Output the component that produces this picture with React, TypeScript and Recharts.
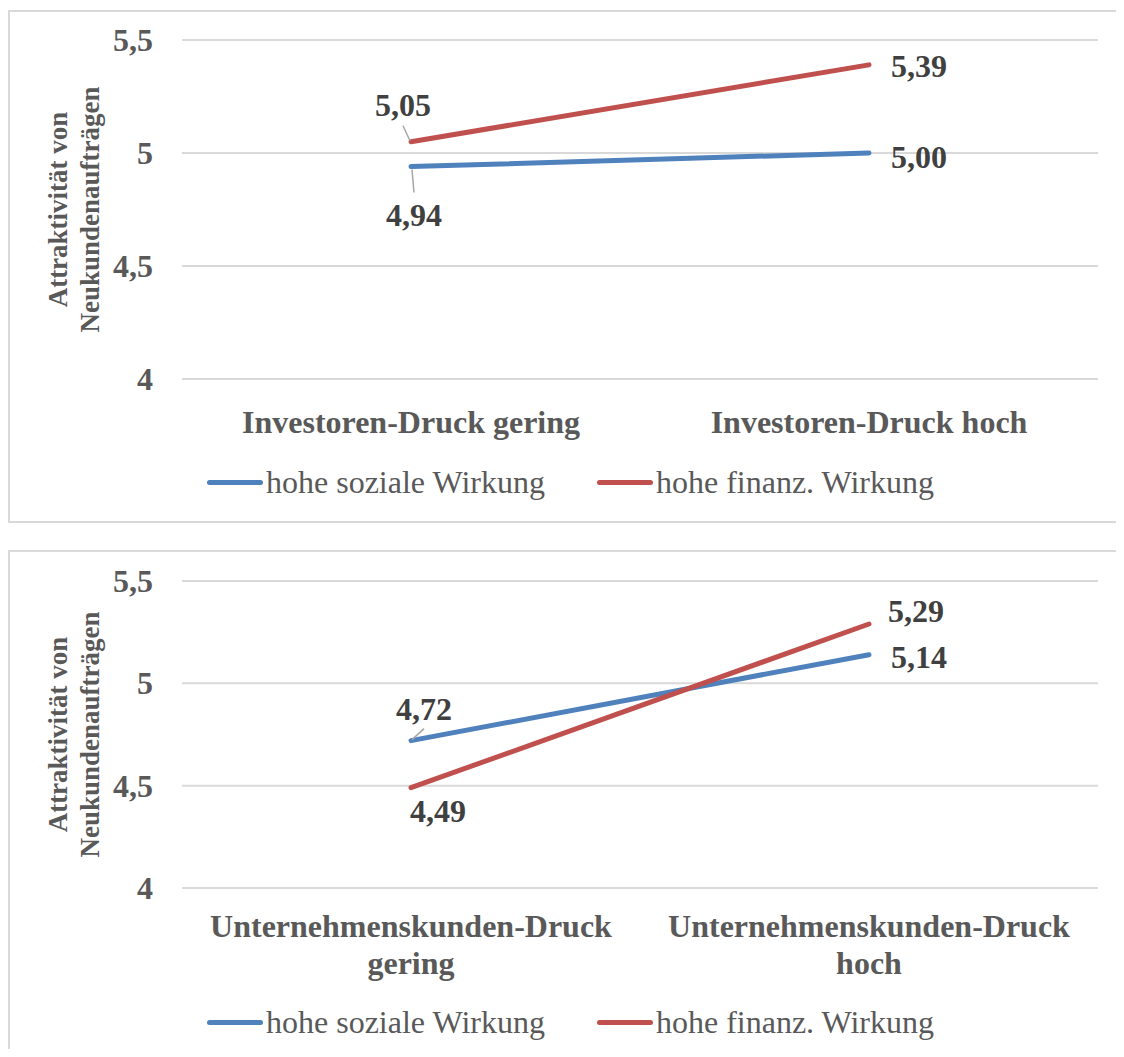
import React from 'react';
import { LineChart, Line, XAxis, YAxis, CartesianGrid, Legend, LabelList } from 'recharts';

// Panel A: Investoren-Druck
const investorCategories = ['Investoren-Druck gering', 'Investoren-Druck hoch'];
const investorSocial = [4.94, 5.0];
const investorFinancial = [5.05, 5.39];

// Panel B: Unternehmenskunden-Druck
const clientCategories = ['Unternehmenskunden-Druck gering', 'Unternehmenskunden-Druck hoch'];
const clientSocial = [4.72, 5.14];
const clientFinancial = [4.49, 5.29];

const yTicks = [4, 4.5, 5, 5.5];
const seriesNames = ['hohe soziale Wirkung', 'hohe finanz. Wirkung'];
const axisTitle = ['Attraktivität von', 'Neukundenaufträgen'];

const FONT = '"Liberation Serif", "Times New Roman", serif';
const BLUE = '#4F81BD';
const RED = '#C0504D';
const GREY_TEXT = '#595959';
const LABEL_TEXT = '#404040';
const GRID = '#d9d9d9';

type Placement = {
  dx: number;
  dy: number;
  anchor: 'start' | 'middle' | 'end';
  leader?: [number, number, number, number];
};

interface PanelProps {
  categories: string[];
  social: number[];
  financial: number[];
  socialLabels: Placement[];
  financialLabels: Placement[];
  plotTop: number;
  xAxisHeight: number;
  tickDy: number;
  wrapTicks?: boolean;
}

const CHART_W = 1114;
const CHART_H = 509;
const PLOT_LEFT = 172;
const PLOT_RIGHT_MARGIN = 26;
// half a category band on each side, so points sit in the middle of their band
const BAND_PAD = (CHART_W - PLOT_LEFT - PLOT_RIGHT_MARGIN) / 4;

function fmt(v: number, digits: number) {
  return v.toFixed(digits).replace('.', ',');
}

function fmtTick(v: number) {
  return Number.isInteger(v) ? String(v) : fmt(v, 1);
}

function makeLabel(placements: Placement[]) {
  // eslint-disable-next-line @typescript-eslint/no-explicit-any
  return function DataLabel(props: any) {
    const { x, y, value, index } = props;
    const p = placements[index];
    if (!p || x == null || y == null) return null;
    return (
      <g>
        {p.leader && (
          <line
            x1={x + p.leader[0]}
            y1={y + p.leader[1]}
            x2={x + p.leader[2]}
            y2={y + p.leader[3]}
            stroke="#a6a6a6"
            strokeWidth={1.5}
          />
        )}
        <text
          x={x + p.dx}
          y={y + p.dy}
          textAnchor={p.anchor}
          dominantBaseline="central"
          fontFamily={FONT}
          fontWeight="bold"
          fontSize={32}
          fill={LABEL_TEXT}
        >
          {fmt(Number(value), 2)}
        </text>
      </g>
    );
  };
}

// eslint-disable-next-line @typescript-eslint/no-explicit-any
function YTick({ x, y, payload }: any) {
  return (
    <text x={x} y={y} textAnchor="end" dominantBaseline="central" fontFamily={FONT} fontWeight="bold" fontSize={32} fill={GREY_TEXT}>
      {fmtTick(payload.value)}
    </text>
  );
}

function makeXTick(dy: number, wrap: boolean) {
  // eslint-disable-next-line @typescript-eslint/no-explicit-any
  return function XTick({ x, y, payload }: any) {
    const label: string = payload.value;
    let lines = [label];
    if (wrap) {
      const cut = label.lastIndexOf(' ');
      lines = [label.slice(0, cut), label.slice(cut + 1)];
    }
    return (
      <text x={x} y={y + dy} textAnchor="middle" dominantBaseline="central" fontFamily={FONT} fontWeight="bold" fontSize={32} fill={GREY_TEXT}>
        {lines.map((line, i) => (
          <tspan key={i} x={x} dy={i === 0 ? 0 : 37}>
            {line}
          </tspan>
        ))}
      </text>
    );
  };
}

// eslint-disable-next-line @typescript-eslint/no-explicit-any
function AxisTitle(props: any) {
  const vb = props.viewBox;
  const cy = vb.y + vb.height / 2;
  const xs = [vb.x + 48, vb.x + 80];
  return (
    <g>
      {axisTitle.map((t, i) => (
        <text
          key={t}
          x={xs[i]}
          y={cy}
          transform={`rotate(-90 ${xs[i]} ${cy})`}
          textAnchor="middle"
          dominantBaseline="central"
          fontFamily={FONT}
          fontWeight="bold"
          fontSize={27}
          fill={GREY_TEXT}
        >
          {t}
        </text>
      ))}
    </g>
  );
}

// eslint-disable-next-line @typescript-eslint/no-explicit-any
function LegendContent({ payload }: any) {
  // keep the series order of seriesNames
  // eslint-disable-next-line @typescript-eslint/no-explicit-any
  const items = [...(payload || [])].sort((a: any, b: any) => seriesNames.indexOf(a.value) - seriesNames.indexOf(b.value));
  return (
    <div style={{ display: 'flex', alignItems: 'center', fontFamily: FONT, fontSize: 32, lineHeight: '40px', color: GREY_TEXT, whiteSpace: 'nowrap' }}>
      {/* eslint-disable-next-line @typescript-eslint/no-explicit-any */}
      {items.map((entry: any, i: number) => (
        <div key={entry.value} style={{ display: 'flex', alignItems: 'center', marginLeft: i === 0 ? 0 : 52 }}>
          <span style={{ display: 'inline-block', width: 56, height: 5, borderRadius: 3, background: entry.color, marginRight: 3 }} />
          <span>{entry.value}</span>
        </div>
      ))}
    </div>
  );
}

function Panel({ categories, social, financial, socialLabels, financialLabels, plotTop, xAxisHeight, tickDy, wrapTicks }: PanelProps) {
  const data = categories.map((c, i) => ({ name: c, social: social[i], financial: financial[i] }));
  return (
    <LineChart width={CHART_W} height={CHART_H} data={data} margin={{ top: plotTop, right: PLOT_RIGHT_MARGIN, bottom: 0, left: 0 }}>
      <CartesianGrid vertical={false} stroke={GRID} strokeWidth={2} />
      <XAxis
        dataKey="name"
        axisLine={false}
        tickLine={false}
        tickSize={0}
        tickMargin={0}
        height={xAxisHeight}
        interval={0}
        padding={{ left: BAND_PAD, right: BAND_PAD }}
        tick={makeXTick(tickDy, !!wrapTicks)}
      />
      <YAxis
        domain={[4, 5.5]}
        ticks={yTicks}
        axisLine={false}
        tickLine={false}
        tickSize={0}
        tickMargin={29}
        width={PLOT_LEFT}
        tick={<YTick />}
        label={{ content: AxisTitle }}
      />
      <Legend
        layout="horizontal"
        verticalAlign="middle"
        align="center"
        wrapperStyle={{ top: 450, left: 197, width: 'auto' }}
        content={<LegendContent />}
      />
      <Line
        type="linear"
        dataKey="social"
        name={seriesNames[0]}
        stroke={BLUE}
        strokeWidth={5}
        strokeLinecap="round"
        dot={false}
        activeDot={false}
        isAnimationActive={false}
      >
        <LabelList dataKey="social" content={makeLabel(socialLabels)} />
      </Line>
      <Line
        type="linear"
        dataKey="financial"
        name={seriesNames[1]}
        stroke={RED}
        strokeWidth={5}
        strokeLinecap="round"
        dot={false}
        activeDot={false}
        isAnimationActive={false}
      >
        <LabelList dataKey="financial" content={makeLabel(financialLabels)} />
      </Line>
    </LineChart>
  );
}

// panel frames are open on the right, they run to the page edge
const panelStyle: React.CSSProperties = {
  borderTop: `2px solid ${GRID}`,
  borderLeft: `2px solid ${GRID}`,
  borderBottom: `2px solid ${GRID}`,
  width: CHART_W,
  height: CHART_H,
  background: '#fff',
};

export default function App() {
  return (
    <div style={{ width: 1116, height: 1041, overflow: 'hidden', background: '#fff' }}>
      <div style={{ ...panelStyle, marginTop: 2 }}>
        <Panel
          categories={investorCategories}
          social={investorSocial}
          financial={investorFinancial}
          socialLabels={[
            { dx: 3, dy: 48, anchor: 'middle', leader: [1, 3, 3, 26] },
            { dx: 22, dy: 4, anchor: 'start' },
          ]}
          financialLabels={[
            { dx: -8, dy: -37, anchor: 'middle', leader: [-8, -16, -1, -1] },
            { dx: 22, dy: 1, anchor: 'start' },
          ]}
          plotTop={28}
          xAxisHeight={142}
          tickDy={43}
        />
      </div>
      <div style={{ ...panelStyle, marginTop: 27 }}>
        <Panel
          categories={clientCategories}
          social={clientSocial}
          financial={clientFinancial}
          socialLabels={[
            { dx: 13, dy: -32, anchor: 'middle', leader: [1, -1, 13, -12] },
            { dx: 22, dy: 2, anchor: 'start' },
          ]}
          financialLabels={[
            { dx: 27, dy: 23, anchor: 'middle' },
            { dx: 19, dy: -13, anchor: 'start' },
          ]}
          plotTop={29}
          xAxisHeight={173}
          tickDy={38}
          wrapTicks
        />
      </div>
    </div>
  );
}
